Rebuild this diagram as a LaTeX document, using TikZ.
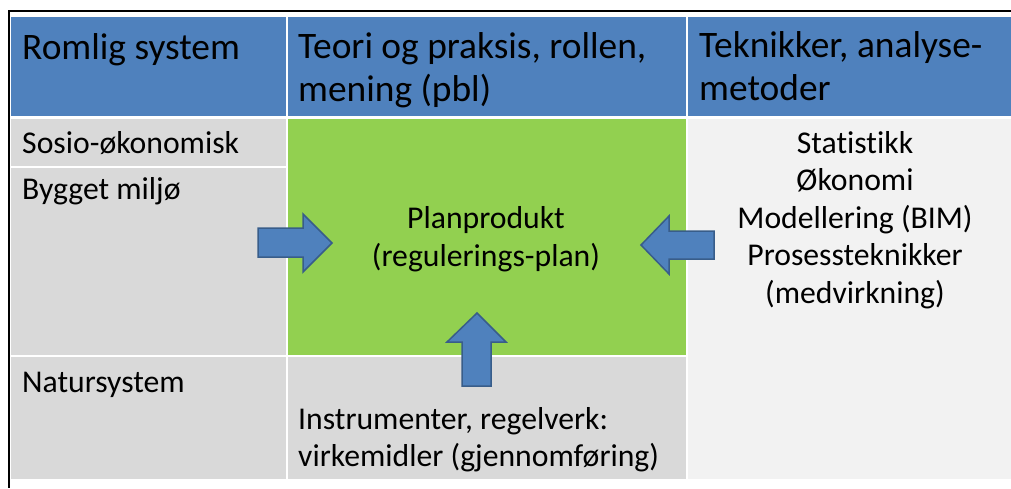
\documentclass[tikz,border=0pt]{standalone}
\usepackage{fontspec}
\setmainfont{Carlito}[RawFeature={-liga}]
\definecolor{hdr}{HTML}{4F81BD}
\definecolor{cellgray}{HTML}{D9D9D9}
\definecolor{cellgreen}{HTML}{92D050}
\definecolor{celllight}{HTML}{F2F2F2}
\definecolor{arrowedge}{HTML}{385D8A}
\tikzset{
  hdrtxt/.style={inner sep=0pt, anchor=base west, font=\fontsize{37.4}{44}\selectfont},
  bodytxt/.style={inner sep=0pt, anchor=base west, font=\fontsize{31.7}{37.5}\selectfont},
  ctrtxt/.style={inner sep=0pt, anchor=base, font=\fontsize{31.7}{37.5}\selectfont},
  bigarrow/.style={fill=hdr, draw=arrowedge, line width=1.5pt, line join=miter},
}
\begin{document}
\begin{tikzpicture}[x=1pt,y=-1pt]
\useasboundingbox (0,0) rectangle (1011,488);
\fill[white] (0,0) rectangle (1011,488);
% outer frame lines
\draw[black, line width=2pt] (9,11) -- (1011,11);
\draw[black, line width=2pt] (9,10) -- (9,488);
% header cells
\fill[hdr] (11,17) rectangle (286,116);
\fill[hdr] (288,17) rectangle (686,116);
\fill[hdr] (688,17) rectangle (1011,116);
% body cells
\fill[cellgray] (11,119) rectangle (286,166);
\fill[cellgray] (11,168) rectangle (286,355);
\fill[cellgray] (11,357) rectangle (286,479);
\fill[cellgreen] (288,119) rectangle (686,355);
\fill[cellgray] (288,357) rectangle (686,479);
\fill[celllight] (688,119) rectangle (1011,479);
% header texts
\node[hdrtxt] (h1) at (22,59) {Romlig system};
\node[hdrtxt] (h2a) at (298,58) {Teori og praksis, rollen,};
\node[hdrtxt] (h2b) at (298,101) {mening (pbl)};
\node[hdrtxt] (h3a) at (699,57) {Teknikker, analyse-};
\node[hdrtxt] (h3b) at (699,100) {metoder};
% left column
\node[bodytxt] (sosio) at (22,153) {Sosio-økonomisk};
\node[bodytxt] (bygget) at (22,199) {Bygget miljø};
\node[bodytxt] (natur) at (22,392) {Natursystem};
% centre
\node[ctrtxt] (plan1) at (486,228) {Planprodukt};
\node[ctrtxt] (plan2) at (486,266) {(regulerings-plan)};
\node[bodytxt] (instr1) at (298,429) {Instrumenter, regelverk:};
\node[bodytxt] (instr2) at (298,466.5) {virkemidler (gjennomføring)};
% right column
\node[ctrtxt] (t1) at (855,153) {Statistikk};
\node[ctrtxt] (t2) at (855,190.5) {Økonomi};
\node[ctrtxt] (t3) at (855,228) {Modellering (BIM)};
\node[ctrtxt] (t4) at (855,265.5) {Prosessteknikker};
\node[ctrtxt] (t5) at (855,303) {(medvirkning)};
% arrows
\draw[bigarrow] (258,228) -- (303,228) -- (303,214) -- (332,243) -- (303,272) -- (303,257) -- (258,257) -- cycle;
\draw[bigarrow] (714,231) -- (669,231) -- (669,216) -- (641,245) -- (669,274) -- (669,259) -- (714,259) -- cycle;
\draw[bigarrow] (462,386) -- (462,342) -- (447,342) -- (477,313) -- (506,342) -- (491,342) -- (491,386) -- cycle;
\end{tikzpicture}
\end{document}
